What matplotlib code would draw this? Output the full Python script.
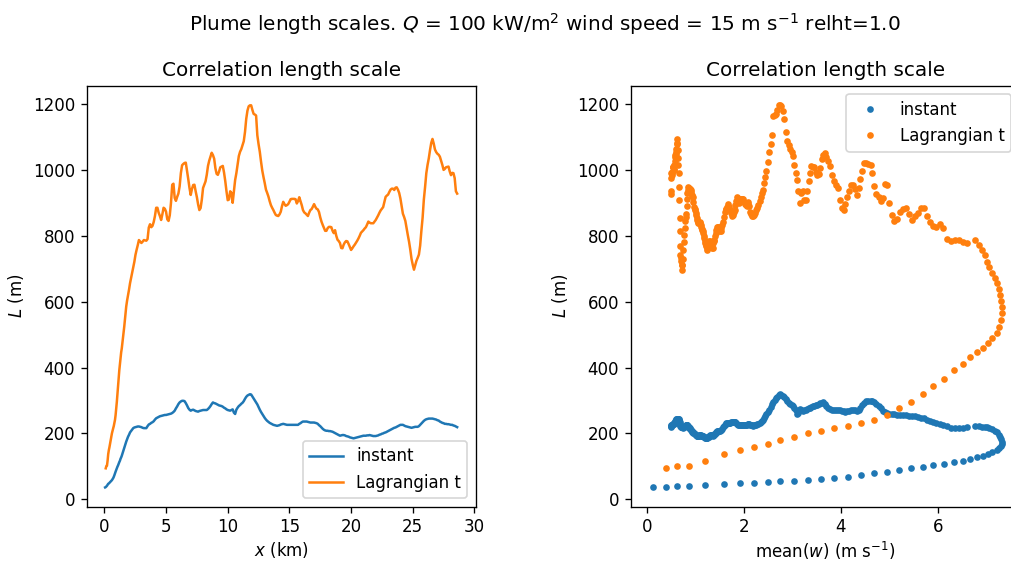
import numpy as np
import matplotlib
matplotlib.use('Agg')
import matplotlib.pyplot as plt

# ============================================
# DATOS: escalas de longitud a lo largo del penacho
# ============================================

# distancia a sotavento (km)
x_km = [0.06, 0.11, 0.16, 0.21, 0.26, 0.31, 0.36, 0.41, 0.46, 0.51,
        0.56, 0.61, 0.66, 0.71, 0.76, 0.81, 0.86, 0.91, 0.96, 1.01,
        1.06, 1.11, 1.16, 1.21, 1.26, 1.31, 1.36, 1.41, 1.46, 1.51,
        1.56, 1.61, 1.66, 1.71, 1.77, 1.84, 1.92, 2.00, 2.08, 2.16,
        2.25, 2.34, 2.43, 2.52, 2.61, 2.71, 2.80,
        3.0, 3.1, 3.2, 3.3, 3.4, 3.5, 3.6, 3.7, 3.8, 3.9,
        4.0, 4.1, 4.2, 4.3, 4.4, 4.5, 4.6, 4.7, 4.8, 4.9,
        5.0, 5.1, 5.2, 5.3, 5.4, 5.5, 5.6, 5.7, 5.8, 5.9,
        6.0, 6.1, 6.2, 6.3, 6.4, 6.5, 6.6, 6.7, 6.8, 6.9,
        7.0, 7.1, 7.2, 7.3, 7.4, 7.5, 7.6, 7.7, 7.8, 7.9,
        8.0, 8.1, 8.2, 8.3, 8.4, 8.5, 8.6, 8.7, 8.8, 8.9,
        9.0, 9.1, 9.2, 9.3, 9.4, 9.5, 9.6, 9.7, 9.8, 9.9,
        10.0, 10.1, 10.2, 10.3, 10.4, 10.5, 10.6, 10.7, 10.8, 10.9,
        11.0, 11.1, 11.2, 11.3, 11.4, 11.5, 11.6, 11.7, 11.8, 11.9,
        12.0, 12.1, 12.2, 12.3, 12.4, 12.5, 12.6, 12.7, 12.8, 12.9,
        13.0, 13.1, 13.2, 13.3, 13.4, 13.5, 13.6, 13.7, 13.8, 13.9,
        14.0, 14.1, 14.2, 14.3, 14.4, 14.5, 14.6, 14.7, 14.8, 14.9,
        15.0, 15.1, 15.2, 15.3, 15.4, 15.5, 15.6, 15.7, 15.8, 15.9,
        16.0, 16.1, 16.2, 16.3, 16.4, 16.5, 16.6, 16.7, 16.8, 16.9,
        17.0, 17.1, 17.2, 17.3, 17.4, 17.5, 17.6, 17.7, 17.8, 17.9,
        18.0, 18.1, 18.2, 18.3, 18.4, 18.5, 18.6, 18.7, 18.8, 18.9,
        19.0, 19.1, 19.2, 19.3, 19.4, 19.5, 19.6, 19.7, 19.8, 19.9,
        20.0, 20.1, 20.2, 20.3, 20.4, 20.5, 20.6, 20.7, 20.8, 20.9,
        21.0, 21.1, 21.2, 21.3, 21.4, 21.5, 21.6, 21.7, 21.8, 21.9,
        22.0, 22.1, 22.2, 22.3, 22.4, 22.5, 22.6, 22.7, 22.8, 22.9,
        23.0, 23.1, 23.2, 23.3, 23.4, 23.5, 23.6, 23.7, 23.8, 23.9,
        24.0, 24.1, 24.2, 24.3, 24.4, 24.5, 24.6, 24.7, 24.8, 24.9,
        25.0, 25.1, 25.2, 25.3, 25.4, 25.5, 25.6, 25.7, 25.8, 25.9,
        26.0, 26.1, 26.2, 26.3, 26.4, 26.5, 26.6, 26.7, 26.8, 26.9,
        27.0, 27.1, 27.2, 27.3, 27.4, 27.5, 27.6, 27.7, 27.8, 27.9,
        28.0, 28.1, 28.2, 28.3, 28.4, 28.5, 28.6]

# velocidad vertical media en el penacho (m/s)
w_mean = [0.11, 0.38, 0.62, 0.86, 1.20, 1.59, 1.92, 2.21, 2.49, 2.75,
          3.03, 3.31, 3.59, 3.86, 4.15, 4.42, 4.69, 4.95, 5.20, 5.45,
          5.69, 5.91, 6.12, 6.33, 6.51, 6.67, 6.81, 6.93, 7.03, 7.11,
          7.22, 7.27, 7.30, 7.32, 7.32, 7.31, 7.29, 7.26, 7.23, 7.19,
          7.12, 7.06, 7.01, 6.97, 6.92, 6.85, 6.77,
          6.60, 6.52, 6.43, 6.35, 6.27, 6.19, 6.10, 6.04, 5.97, 5.91,
          5.84, 5.78, 5.71, 5.65, 5.58, 5.52, 5.46, 5.40, 5.34, 5.28,
          5.22, 5.16, 5.10, 5.05, 4.99, 4.95, 4.90, 4.86, 4.82, 4.78,
          4.73, 4.69, 4.65, 4.61, 4.56, 4.52, 4.48, 4.44, 4.40, 4.37,
          4.33, 4.29, 4.25, 4.21, 4.17, 4.13, 4.09, 4.06, 4.02, 3.98,
          3.94, 3.90, 3.86, 3.82, 3.78, 3.74, 3.70, 3.67, 3.63, 3.60,
          3.57, 3.54, 3.51, 3.48, 3.45, 3.42, 3.39, 3.36, 3.33, 3.30,
          3.27, 3.24, 3.21, 3.18, 3.15, 3.12, 3.09, 3.07, 3.04, 3.01,
          2.98, 2.95, 2.92, 2.89, 2.86, 2.83, 2.80, 2.77, 2.74, 2.71,
          2.68, 2.66, 2.63, 2.60, 2.57, 2.55, 2.52, 2.49, 2.46, 2.44,
          2.41, 2.38, 2.36, 2.34, 2.32, 2.29, 2.27, 2.25, 2.23, 2.20,
          2.18, 2.16, 2.14, 2.13, 2.11, 2.09, 2.07, 2.06, 2.04, 2.02,
          2.00, 1.98, 1.96, 1.95, 1.93, 1.91, 1.89, 1.88, 1.86, 1.84,
          1.82, 1.81, 1.79, 1.78, 1.76, 1.74, 1.72, 1.71, 1.69, 1.68,
          1.66, 1.65, 1.63, 1.62, 1.60, 1.58, 1.56, 1.55, 1.53, 1.52,
          1.50, 1.49, 1.47, 1.46, 1.45, 1.43, 1.42, 1.41, 1.40, 1.38,
          1.37, 1.36, 1.35, 1.33, 1.32, 1.30, 1.29, 1.28, 1.27, 1.25,
          1.24, 1.23, 1.22, 1.21, 1.20, 1.19, 1.18, 1.17, 1.16, 1.15,
          1.14, 1.12, 1.11, 1.10, 1.09, 1.08, 1.07, 1.06, 1.05, 1.04,
          1.03, 1.02, 1.01, 1.00, 0.99, 0.98, 0.97, 0.95, 0.94, 0.93,
          0.92, 0.91, 0.90, 0.89, 0.88, 0.87, 0.86, 0.85, 0.84, 0.83,
          0.82, 0.81, 0.80, 0.79, 0.78, 0.77, 0.76, 0.75, 0.74, 0.73,
          0.72, 0.715, 0.71, 0.70, 0.69, 0.685, 0.68, 0.675, 0.67, 0.66,
          0.65, 0.645, 0.64, 0.635, 0.63, 0.62, 0.61, 0.605, 0.60, 0.595,
          0.59, 0.58, 0.57, 0.565, 0.56, 0.555, 0.55, 0.54, 0.53, 0.525,
          0.52, 0.515, 0.51, 0.50, 0.49, 0.485, 0.48]

# escala de correlación instantánea (m)
L_instant = [36, 37, 39, 41, 44, 47, 48, 50, 52, 54,
             56, 58, 61, 64, 68, 73, 79, 84, 89, 94,
             99, 103, 108, 113, 117, 123, 127, 132, 138, 144,
             151, 156, 161, 167, 175, 182, 190, 196, 203, 207,
             212, 216, 218, 219, 220, 221, 221,
             219, 217, 216, 216, 216, 222, 227, 229, 232, 234,
             237, 242, 246, 248, 250, 252, 253, 254, 255, 256,
             256, 257, 258, 259, 260, 262, 265, 269, 276, 282,
             289, 294, 297, 299, 299, 298, 292, 285, 277, 272,
             269, 271, 272, 270, 268, 267, 266, 268, 269, 270,
             271, 271, 271, 271, 274, 278, 283, 289, 294, 292,
             291, 289, 287, 285, 284, 283, 281, 278, 276, 273,
             271, 270, 269, 271, 273, 263, 259, 272, 278, 283,
             286, 290, 293, 298, 305, 311, 315, 317, 319, 318,
             312, 306, 300, 294, 288, 280, 272, 265, 259, 253,
             247, 242, 238, 235, 232, 230, 228, 226, 225, 224,
             223, 224, 225, 227, 228, 229, 228, 227, 226, 226,
             226, 226, 226, 226, 226, 226, 226, 226, 229, 231,
             234, 236, 236, 236, 236, 235, 234, 233, 233, 233,
             233, 232, 231, 229, 225, 222, 218, 214, 211, 209,
             208, 208, 207, 207, 206, 205, 203, 201, 199, 197,
             195, 193, 194, 195, 195, 194, 192, 191, 190, 188,
             187, 186, 185, 186, 187, 188, 189, 190, 191, 192,
             193, 193, 193, 194, 194, 195, 194, 193, 192, 192,
             192, 193, 194, 196, 197, 199, 200, 202, 203, 205,
             207, 209, 211, 213, 215, 217, 218, 220, 222, 224,
             226, 226, 226, 224, 222, 221, 220, 219, 218, 217,
             218, 219, 220, 220, 220, 222, 226, 230, 234, 238,
             241, 243, 244, 245, 245, 245, 245, 244, 243, 242,
             240, 239, 236, 234, 232, 231, 229, 229, 228, 228,
             227, 226, 226, 224, 223, 221, 219]

# escala de correlación lagrangiana en t (m)
L_lagr = [np.nan, 94, 101, 102, 117, 137, 149, 158, 169, 180,
          190, 200, 208, 215, 222, 231, 241, 256, 276, 296,
          320, 345, 366, 392, 410, 431, 446, 458, 474, 489,
          506, 524, 544, 565, 585, 603, 620, 637, 656, 671,
          688, 706, 721, 742, 757, 772, 787,
          778, 782, 787, 786, 785, 790, 825, 835, 826, 830,
          842, 860, 885, 885, 870, 860, 848, 865, 885, 882,
          873, 850, 845, 862, 900, 955, 958, 915, 906, 918,
          928, 950, 990, 1014, 1018, 1021, 1022, 998, 972, 945,
          924, 942, 954, 955, 935, 917, 895, 878, 884, 910,
          945, 955, 965, 985, 1012, 1028, 1040, 1052, 1045, 1034,
          1005, 988, 985, 995, 1008, 1010, 1012, 992, 966, 935,
          908, 910, 935, 930, 900, 935, 969, 990, 1015, 1042,
          1055, 1063, 1075, 1087, 1115, 1155, 1180, 1193, 1196, 1196,
          1182, 1170, 1168, 1165, 1105, 1078, 1055, 1025, 998, 978,
          960, 940, 930, 919, 905, 893, 885, 878, 870, 863,
          861, 860, 865, 873, 890, 903, 896, 891, 893, 896,
          903, 911, 912, 912, 912, 911, 898, 905, 917, 905,
          893, 878, 871, 868, 864, 860, 870, 878, 881, 888,
          896, 888, 882, 880, 872, 856, 843, 833, 824, 815,
          815, 823, 827, 827, 826, 815, 808, 817, 800, 788,
          784, 778, 763, 762, 773, 780, 784, 783, 775, 766,
          757, 762, 768, 773, 779, 785, 792, 800, 809, 813,
          817, 822, 826, 834, 843, 840, 838, 838, 838, 843,
          848, 855, 862, 870, 877, 882, 887, 902, 918, 922,
          925, 933, 940, 943, 943, 939, 946, 947, 940, 930,
          913, 890, 867, 857, 845, 823, 802, 782, 758, 730,
          712, 697, 710, 724, 733, 743, 770, 815, 855, 910,
          948, 990, 1015, 1035, 1060, 1082, 1094, 1080, 1062, 1054,
          1049, 1046, 1040, 1028, 1015, 1000, 1003, 1008, 1009, 1010,
          995, 984, 991, 990, 975, 935, 928]

labels = ['instant', 'Lagrangian t']

# ============================================
# FIGURA
# ============================================

fig = plt.figure(figsize=(8.425, 4.675), dpi=120)
ax1 = fig.add_axes([0.0858, 0.0968, 0.3848, 0.7504])
ax2 = fig.add_axes([0.6238, 0.0968, 0.3848, 0.7504])

# L frente a x
ax1.plot(x_km, L_instant, label=labels[0])
ax1.plot(x_km, L_lagr, label=labels[1])
ax1.set_xlim(-1.43, 30.11)
ax1.set_xlabel('$x$ (km)', labelpad=2)
ax1.set_ylabel('$L$ (m)')
ax1.set_title('Correlation length scale')
ax1.legend(loc='lower right')

# L frente a la velocidad vertical media
ax2.plot(w_mean, L_instant, '.', linestyle='none', label=labels[0])
ax2.plot(w_mean, L_lagr, '.', linestyle='none', label=labels[1])
ax2.set_xlim(-0.343, 7.69)
ax2.set_xticks([0, 2, 4, 6])
ax2.set_xlabel('mean($w$) (m s$^{-1}$)', labelpad=2)
ax2.set_ylabel('$L$ (m)')
ax2.set_title('Correlation length scale')
ax2.legend(loc='upper right')

for ax in (ax1, ax2):
    ax.set_ylim(-22.5, 1255.5)
    ax.set_yticks(np.arange(0, 1201, 200))

fig.suptitle('Plume length scales. $Q$ = 100 kW/m$^2$ wind speed = 15 m s$^{-1}$ relht=1.0',
             x=0.539)

plt.savefig('out.png', dpi=120)
